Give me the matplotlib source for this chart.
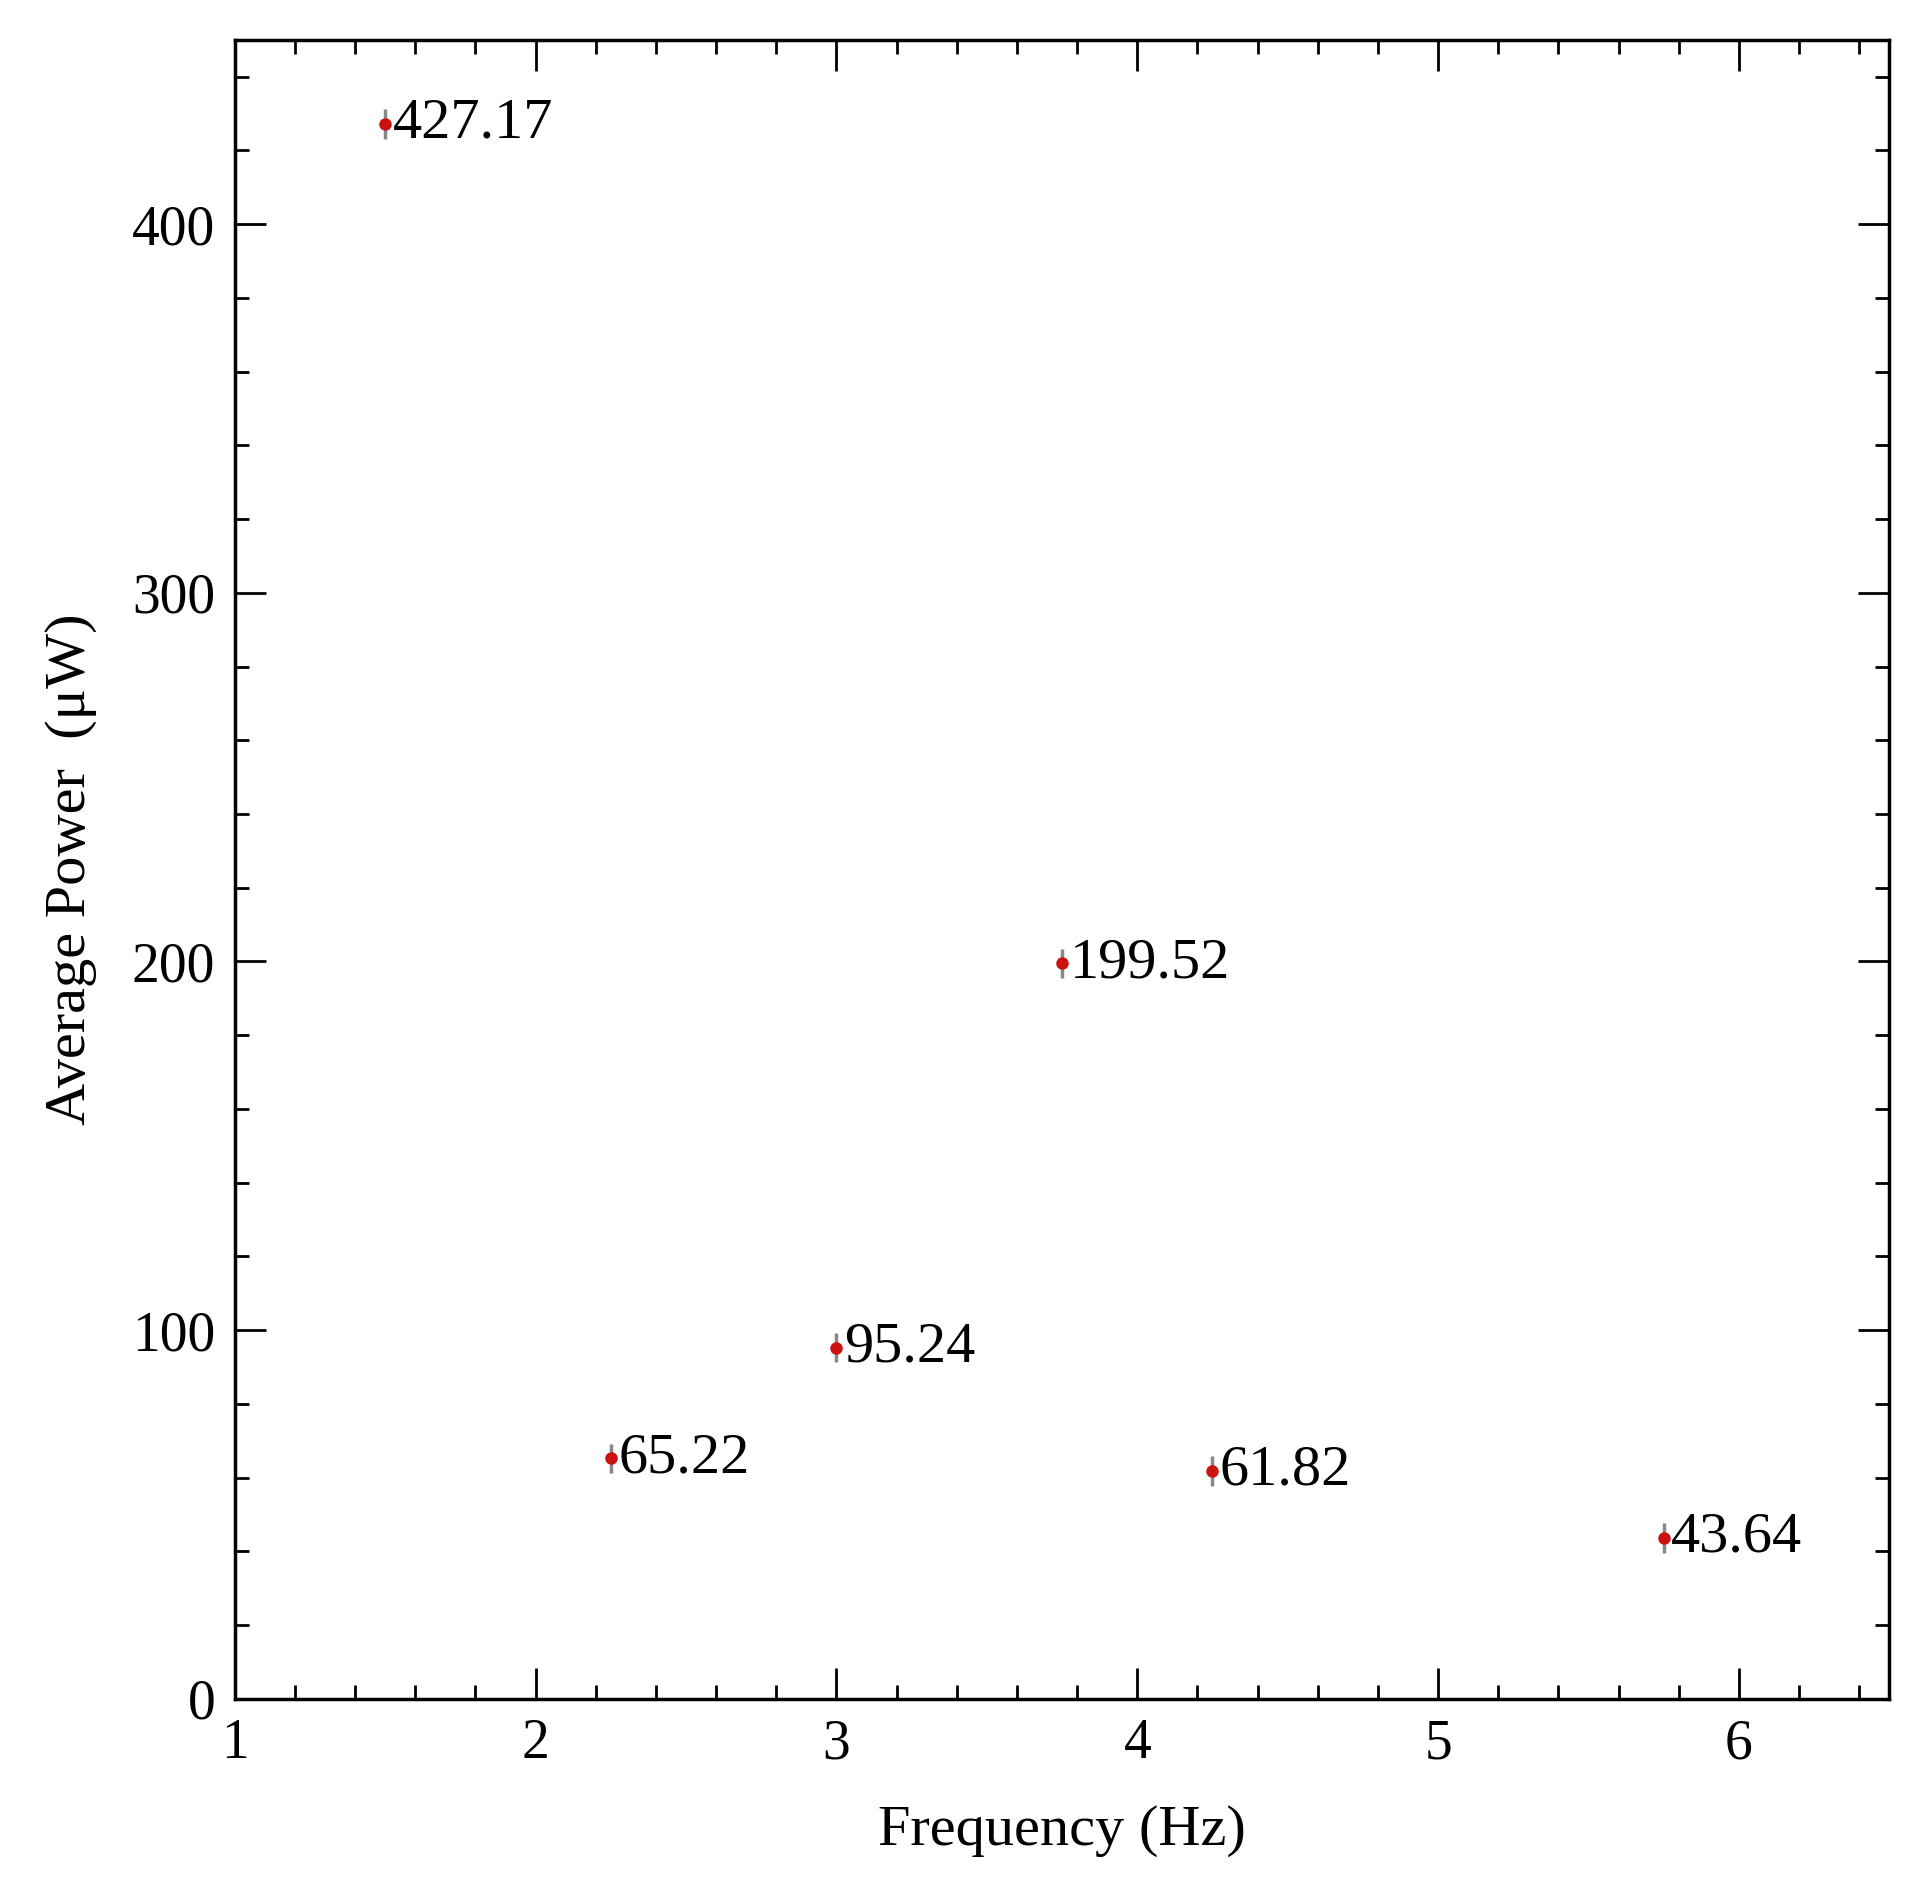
import matplotlib
matplotlib.use("Agg")
import matplotlib.pyplot as plt
from matplotlib.ticker import MultipleLocator

freq = [1.5, 2.25, 3.0, 3.75, 4.25, 5.75]
power = [427.17, 65.22, 95.24, 199.52, 61.82, 43.64]
err = [4, 4, 4, 4, 4, 4]
labels = ["427.17", "65.22", "95.24", "199.52", "61.82", "43.64"]

plt.rcParams['font.family'] = ['Liberation Serif', 'DejaVu Serif']

fig = plt.figure(figsize=(19.24, 18.96), dpi=100)
ax = fig.add_axes([0.122, 0.104, 0.86, 0.875])

ax.errorbar(freq, power, yerr=err, fmt='o', color='#cc1111', ms=8,
            ecolor='#888888', elinewidth=2.5, capsize=0, zorder=3)
for x, y, t in zip(freq, power, labels):
    ax.text(x + 0.025, y, t, fontsize=42, va='center', ha='left')

ax.set_xlim(1, 6.5)
ax.set_ylim(0, 450)
ax.xaxis.set_major_locator(MultipleLocator(1))
ax.xaxis.set_minor_locator(MultipleLocator(0.2))
ax.yaxis.set_major_locator(MultipleLocator(100))
ax.yaxis.set_minor_locator(MultipleLocator(20))
ax.tick_params(which='both', direction='in', top=True, right=True, labelsize=40, width=2)
ax.tick_params(which='major', length=22, pad=14)
ax.tick_params(which='minor', length=10)
for s in ax.spines.values():
    s.set_linewidth(2.5)

ax.set_xlabel("Frequency (Hz)", fontsize=42, labelpad=25)
ax.set_ylabel("Average Power  (μW)", fontsize=42, labelpad=25)

fig.savefig("out.png", dpi=100)
